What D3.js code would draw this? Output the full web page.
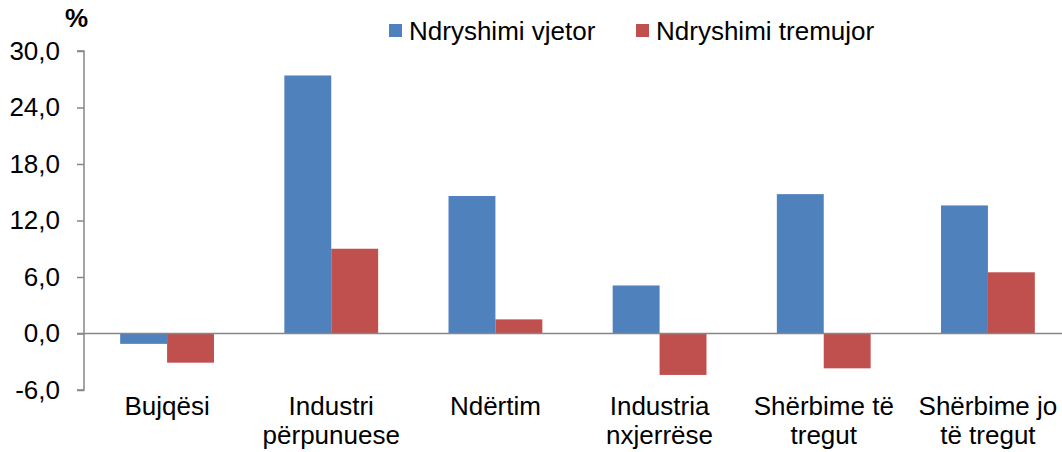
<!DOCTYPE html>
<html>
<head>
<meta charset="utf-8">
<script src="https://cdn.jsdelivr.net/npm/d3@7"></script>
<style>
  body { margin: 0; background: #fff; }
  text { font-family: "Liberation Sans", Arial, sans-serif; fill: #000; }
</style>
</head>
<body>
<div id="vis"></div>
<script>
const W = 1062, H = 452;
const margin = { top: 51, right: 0, bottom: 62, left: 84 };

// Data
const categories = [
  ["Bujqësi"],
  ["Industri", "përpunuese"],
  ["Ndërtim"],
  ["Industria", "nxjerrëse"],
  ["Shërbime të", "tregut"],
  ["Shërbime jo", "të tregut"]
];
const seriesNames = ["Ndryshimi vjetor", "Ndryshimi tremujor"];
const annual = [-1.1, 27.4, 14.6, 5.1, 14.8, 13.6];
const quarterly = [-3.1, 9.0, 1.5, -4.4, -3.7, 6.5];
const yTicks = [-6, 0, 6, 12, 18, 24, 30];
const colors = ["#4F81BD", "#C0504D"];

const svg = d3.select("#vis").append("svg")
  .attr("width", W).attr("height", H);

const y = d3.scaleLinear().domain([-6, 30]).range([390, margin.top]);

// the last group runs a little past the right edge in the original
const x0 = d3.scaleBand()
  .domain(d3.range(categories.length))
  .range([85, 1070])
  .paddingInner(0.4286)
  .paddingOuter(0.2143);

const x1 = d3.scaleBand()
  .domain([0, 1])
  .range([0, x0.bandwidth()]);

// Bars
const series = [annual, quarterly];
series.forEach((vals, si) => {
  svg.append("g").selectAll("rect")
    .data(vals)
    .join("rect")
    .attr("x", (d, i) => x0(i) + x1(si))
    .attr("width", x1.bandwidth())
    .attr("y", d => y(Math.max(0, d)))
    .attr("height", d => Math.abs(y(d) - y(0)))
    .attr("fill", colors[si]);
});

// Y axis
const yAxis = svg.append("g")
  .attr("transform", `translate(${margin.left},0)`)
  .call(d3.axisLeft(y).tickValues(yTicks).tickSize(7).tickPadding(17)
    .tickFormat(d => d3.format(".1f")(d).replace(".", ",").replace("−", "-")));
yAxis.select(".domain").attr("stroke", "#868686").attr("stroke-width", 1.5)
  .attr("d", `M-7,${y(30)}H0V${y(-6)}H-7`);
yAxis.selectAll(".tick line").attr("stroke", "#868686").attr("stroke-width", 1.5);
yAxis.selectAll(".tick text")
  .style("font-size", "26px")
  .style("font-family", "'Liberation Sans', Arial, sans-serif")
  .attr("fill", "#000");

// Zero line
svg.append("line")
  .attr("x1", margin.left - 7).attr("x2", W)
  .attr("y1", y(0)).attr("y2", y(0))
  .attr("stroke", "#868686").attr("stroke-width", 1.5);

// Category labels
const catG = svg.append("g");
categories.forEach((lines, i) => {
  const t = catG.append("text")
    .attr("x", x0(i) + x0.bandwidth() / 2)
    .attr("y", 415)
    .attr("text-anchor", "middle")
    .style("font-size", "26px");
  lines.forEach((ln, j) => {
    t.append("tspan")
      .attr("x", x0(i) + x0.bandwidth() / 2)
      .attr("dy", j === 0 ? 0 : 29)
      .text(ln);
  });
});

// % label
svg.append("text")
  .attr("x", 65).attr("y", 27)
  .style("font-size", "26px")
  .style("font-weight", "bold")
  .text("%");

// Legend
const legendX = [389, 636];
seriesNames.forEach((name, i) => {
  const g = svg.append("g").attr("transform", `translate(${legendX[i]},24)`);
  g.append("rect").attr("width", 13).attr("height", 13).attr("fill", colors[i]);
  g.append("text")
    .attr("x", 20).attr("y", 16)
    .style("font-size", "26px")
    .text(name);
});
</script>
</body>
</html>
